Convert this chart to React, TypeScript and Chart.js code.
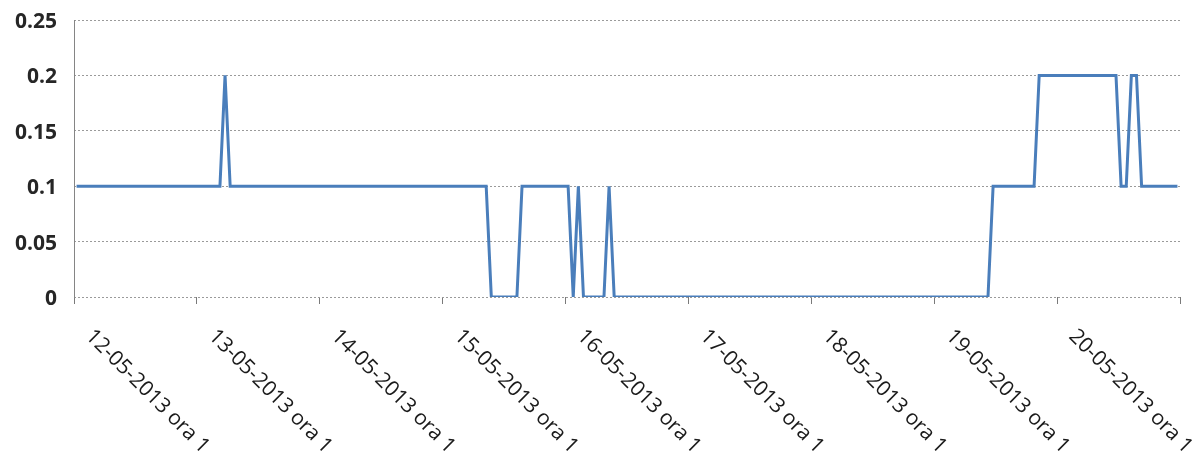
import React, { useEffect, useRef } from "react";
import { Chart, registerables } from "chart.js";

Chart.register(...registerables);

// Days shown on the category axis (hourly data, "ora 1" .. "ora 24")
const days: string[] = [
  "12-05-2013", "13-05-2013", "14-05-2013", "15-05-2013", "16-05-2013",
  "17-05-2013", "18-05-2013", "19-05-2013", "20-05-2013",
];
const hours: number[] = Array.from({ length: 24 }, (_, h) => h + 1);
const categories: string[] = days.flatMap((d) => hours.map((h) => `${d} ora ${h}`));

// Hourly values, one row per day
const day12: number[] = [0.1,0.1,0.1,0.1,0.1,0.1,0.1,0.1,0.1,0.1,0.1,0.1,0.1,0.1,0.1,0.1,0.1,0.1,0.1,0.1,0.1,0.1,0.1,0.1];
const day13: number[] = [0.1,0.1,0.1,0.1,0.1,0.2,0.1,0.1,0.1,0.1,0.1,0.1,0.1,0.1,0.1,0.1,0.1,0.1,0.1,0.1,0.1,0.1,0.1,0.1];
const day14: number[] = [0.1,0.1,0.1,0.1,0.1,0.1,0.1,0.1,0.1,0.1,0.1,0.1,0.1,0.1,0.1,0.1,0.1,0.1,0.1,0.1,0.1,0.1,0.1,0.1];
const day15: number[] = [0.1,0.1,0.1,0.1,0.1,0.1,0.1,0.1,0.1,0,0,0,0,0,0,0.1,0.1,0.1,0.1,0.1,0.1,0.1,0.1,0.1];
const day16: number[] = [0.1,0,0.1,0,0,0,0,0,0.1,0,0,0,0,0,0,0,0,0,0,0,0,0,0,0];
const day17: number[] = [0,0,0,0,0,0,0,0,0,0,0,0,0,0,0,0,0,0,0,0,0,0,0,0];
const day18: number[] = [0,0,0,0,0,0,0,0,0,0,0,0,0,0,0,0,0,0,0,0,0,0,0,0];
const day19: number[] = [0,0,0,0,0,0,0,0,0,0,0,0.1,0.1,0.1,0.1,0.1,0.1,0.1,0.1,0.1,0.2,0.2,0.2,0.2];
const day20: number[] = [0.2,0.2,0.2,0.2,0.2,0.2,0.2,0.2,0.2,0.2,0.2,0.2,0.1,0.1,0.2,0.2,0.1,0.1,0.1,0.1,0.1,0.1,0.1,0.1];
const values: number[] = [...day12, ...day13, ...day14, ...day15, ...day16, ...day17, ...day18, ...day19, ...day20];

const yTicks: number[] = [0, 0.05, 0.1, 0.15, 0.2, 0.25];
const labelEvery = 24;

const xLabelPlugin = {
  id: "rotatedXLabels",
  afterDraw(chart: any) {
    const xs = chart.scales.x;
    const ctx = chart.ctx as CanvasRenderingContext2D;
    const labels = chart.data.labels as string[];
    const half = (xs.getPixelForValue(1) - xs.getPixelForValue(0)) / 2;
    ctx.save();
    ctx.font = "21px 'Open Sans', sans-serif";
    ctx.fillStyle = "#1a1a1a";
    ctx.textAlign = "left";
    ctx.textBaseline = "middle";
    for (let i = 0; i < labels.length; i += labelEvery) {
      const x = xs.getPixelForValue(i) - half + 15;
      const y = chart.chartArea.bottom + 36;
      ctx.save();
      ctx.translate(x, y);
      ctx.rotate(Math.PI / 4);
      ctx.fillText(labels[i], 0, 0);
      ctx.restore();
    }
    ctx.restore();
  },
};

// Solid left axis line (grid lines themselves are dotted)
const yAxisLinePlugin = {
  id: "yAxisLine",
  afterDraw(chart: any) {
    const { left, top, bottom } = chart.chartArea;
    const ctx = chart.ctx as CanvasRenderingContext2D;
    ctx.save();
    ctx.strokeStyle = "#858585";
    ctx.lineWidth = 1;
    ctx.setLineDash([]);
    ctx.beginPath();
    ctx.moveTo(Math.round(left) + 0.5, top);
    ctx.lineTo(Math.round(left) + 0.5, bottom + 1);
    ctx.stroke();
    ctx.restore();
  },
};

export default function App() {
  const ref = useRef<HTMLCanvasElement | null>(null);

  useEffect(() => {
    if (!ref.current) return;
    const chart = new Chart(ref.current, {
      type: "line",
      data: {
        labels: categories,
        datasets: [
          {
            data: values,
            borderColor: "#4a7ebb",
            borderWidth: 3,
            pointRadius: 0,
            tension: 0,
            fill: false,
          },
        ],
      },
      plugins: [xLabelPlugin, yAxisLinePlugin],
      options: {
        animation: false,
        responsive: false,
        layout: { padding: { left: 0, top: 20, right: 13, bottom: 0 } },
        plugins: { legend: { display: false }, tooltip: { enabled: false } },
        scales: {
          x: {
            type: "category",
            offset: true,
            ticks: { display: false },
            grid: {
              offset: true,
              drawOnChartArea: false,
              drawTicks: true,
              tickLength: 7,
              tickColor: (c: any) =>
                c.index === undefined || c.index % labelEvery === 0 ? "#7a7a7a" : "rgba(0,0,0,0)",
              lineWidth: 1,
            },
            border: { display: false },
            afterFit: (s: any) => {
              s.height = 163;
              s.paddingLeft = 0;
              s.paddingRight = 0;
            },
          },
          y: {
            min: 0,
            max: 0.25,
            afterBuildTicks: (s: any) => {
              s.ticks = yTicks.map((v) => ({ value: v }));
            },
            ticks: {
              padding: 17,
              labelOffset: 2,
              color: "#262626",
              font: { family: "'Open Sans', sans-serif", size: 21, weight: "bold" },
              callback: (v: any) => String(Math.round(Number(v) * 100) / 100),
            },
            grid: {
              drawTicks: false,
              color: "#9a9a9a",
              lineWidth: 1,
            },
            border: { display: false, dash: [2, 2] },
            afterFit: (s: any) => {
              s.width = 74;
              s.paddingTop = 0;
              s.paddingBottom = 0;
            },
          },
        },
      },
    });
    return () => chart.destroy();
  }, []);

  return (
    <canvas
      ref={ref}
      width={1193}
      height={460}
      style={{ position: "absolute", left: 0, top: 0, display: "block" }}
    />
  );
}
